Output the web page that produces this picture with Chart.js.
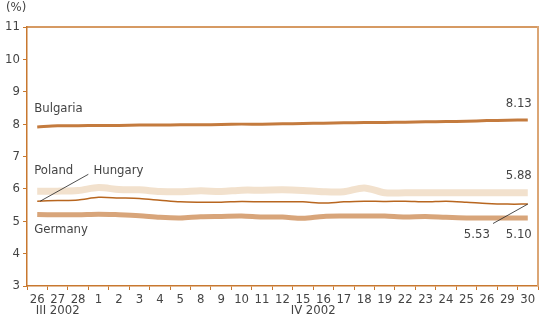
<!DOCTYPE html>
<html><head><meta charset="utf-8">
<script src="https://cdn.jsdelivr.net/npm/chart.js@4"></script>
<style>html,body{margin:0;padding:0;background:#fff}#wrap{width:543px;height:315px;position:relative}</style>
</head><body><div id="wrap"><canvas id="c" width="543" height="315"></canvas></div>
<script>
const categories = ["26","27","28","1","2","3","4","5","8","9","10","11","12","15","16","17","18","19","22","23","24","25","26","29","30"];
const bulgaria = [7.91,7.95,7.95,7.96,7.96,7.97,7.97,7.98,7.98,7.99,8.00,8.00,8.01,8.02,8.03,8.04,8.05,8.05,8.06,8.07,8.08,8.09,8.11,8.12,8.13];
const poland   = [5.93,5.93,5.95,6.04,5.98,5.97,5.92,5.91,5.94,5.92,5.96,5.96,5.97,5.95,5.91,5.91,6.03,5.88,5.88,5.88,5.88,5.88,5.88,5.88,5.88];
const hungary  = [5.62,5.64,5.66,5.74,5.72,5.70,5.65,5.60,5.59,5.59,5.61,5.60,5.60,5.60,5.56,5.60,5.62,5.61,5.62,5.60,5.62,5.59,5.55,5.53,5.53];
const germany  = [5.21,5.20,5.20,5.22,5.20,5.17,5.12,5.10,5.14,5.15,5.16,5.13,5.13,5.09,5.15,5.16,5.16,5.16,5.13,5.15,5.12,5.10,5.10,5.10,5.10];
const yTicks = [3,4,5,6,7,8,9,10,11];

const FONT = "'Liberation Sans Narrow','DejaVu Sans Condensed',sans-serif";
const AX = '#c8782f';
const TXT = '#444444';

const annot = {
  id:'annot',
  afterDraw(chart){
    const {ctx, chartArea:a, scales:{x,y}} = chart;
    const n = categories.length-1;
    ctx.save();
    ctx.strokeStyle = AX; ctx.lineWidth = 1.5;
    ctx.beginPath(); ctx.moveTo(a.left, a.top); ctx.lineTo(a.right, a.top); ctx.stroke();
    ctx.strokeStyle = '#dba676'; ctx.lineWidth = 2;
    ctx.beginPath(); ctx.moveTo(a.right, a.top-1); ctx.lineTo(a.right, a.bottom); ctx.stroke();
    ctx.fillStyle = TXT;
    ctx.font = '13px ' + FONT;
    ctx.textBaseline = 'middle';
    ctx.textAlign = 'left';
    ctx.fillText('(%)', 6, 8);
    const x0 = x.getPixelForValue(0);
    ctx.fillText('Bulgaria', x0-3, y.getPixelForValue(bulgaria[0])-18);
    ctx.fillText('Poland', x0-3, y.getPixelForValue(6.55));
    ctx.fillText('Hungary', x.getPixelForValue(2.75), y.getPixelForValue(6.55));
    ctx.fillText('Germany', x0-3, y.getPixelForValue(4.75));
    const xe = x.getPixelForValue(n);
    ctx.textAlign = 'right';
    ctx.fillText(bulgaria[n].toFixed(2), xe+4, y.getPixelForValue(bulgaria[n])-16);
    ctx.fillText(poland[n].toFixed(2), xe+4, y.getPixelForValue(poland[n])-17);
    ctx.fillText(germany[n].toFixed(2), xe+4, y.getPixelForValue(4.60));
    ctx.fillText(hungary[n].toFixed(2), x.getPixelForValue(n-2)+3, y.getPixelForValue(4.60));
    ctx.textAlign = 'center';
    ctx.fillText('III 2002', x.getPixelForValue(1), 311);
    ctx.fillText('IV 2002', (x.getPixelForValue(13)+x.getPixelForValue(14))/2, 311);
    ctx.strokeStyle = '#222'; ctx.lineWidth = 0.8;
    ctx.beginPath();
    ctx.moveTo(x.getPixelForValue(2.5), y.getPixelForValue(6.45));
    ctx.lineTo(x0+3, y.getPixelForValue(hungary[0]));
    ctx.stroke();
    ctx.beginPath();
    ctx.moveTo(x.getPixelForValue(n-1.7), y.getPixelForValue(4.93));
    ctx.lineTo(xe, y.getPixelForValue(hungary[n]));
    ctx.stroke();
    ctx.restore();
  }
};

new Chart(document.getElementById('c'), {
  type:'line',
  data:{
    labels: categories,
    datasets:[
      {label:'Poland', data:poland, borderColor:'#f2e1cd', borderWidth:7, order:4},
      {label:'Germany', data:germany, borderColor:'#d8a57a', borderWidth:5, order:3},
      {label:'Hungary', data:hungary, borderColor:'#b8661f', borderWidth:1.5, order:2},
      {label:'Bulgaria', data:bulgaria, borderColor:'#c47b3e', borderWidth:3, order:1}
    ]
  },
  options:{
    responsive:false, animation:false,
    elements:{point:{radius:0}, line:{tension:0.3, borderCapStyle:'butt'}},
    layout:{padding:{top:27,right:5,left:0,bottom:0}},
    plugins:{legend:{display:false}, tooltip:{enabled:false}},
    scales:{
      x:{
        offset:true,
        afterFit(s){ s.height = 29; },
        border:{color:AX, width:1.5},
        grid:{drawOnChartArea:false, drawTicks:true, tickLength:4, color:AX, offset:true},
        ticks:{color:TXT, font:{family:FONT, size:13}, padding:2, maxRotation:0, autoSkip:false}
      },
      y:{
        min:3, max:11,
        afterFit(s){ s.width = 27; },
        afterBuildTicks(s){ s.ticks = yTicks.map(v=>({value:v})); },
        border:{color:AX, width:1.5},
        grid:{drawOnChartArea:false, drawTicks:true, tickLength:4, color:AX},
        ticks:{color:TXT, font:{family:FONT, size:13}, padding:3}
      }
    }
  },
  plugins:[annot]
});
</script></body></html>
